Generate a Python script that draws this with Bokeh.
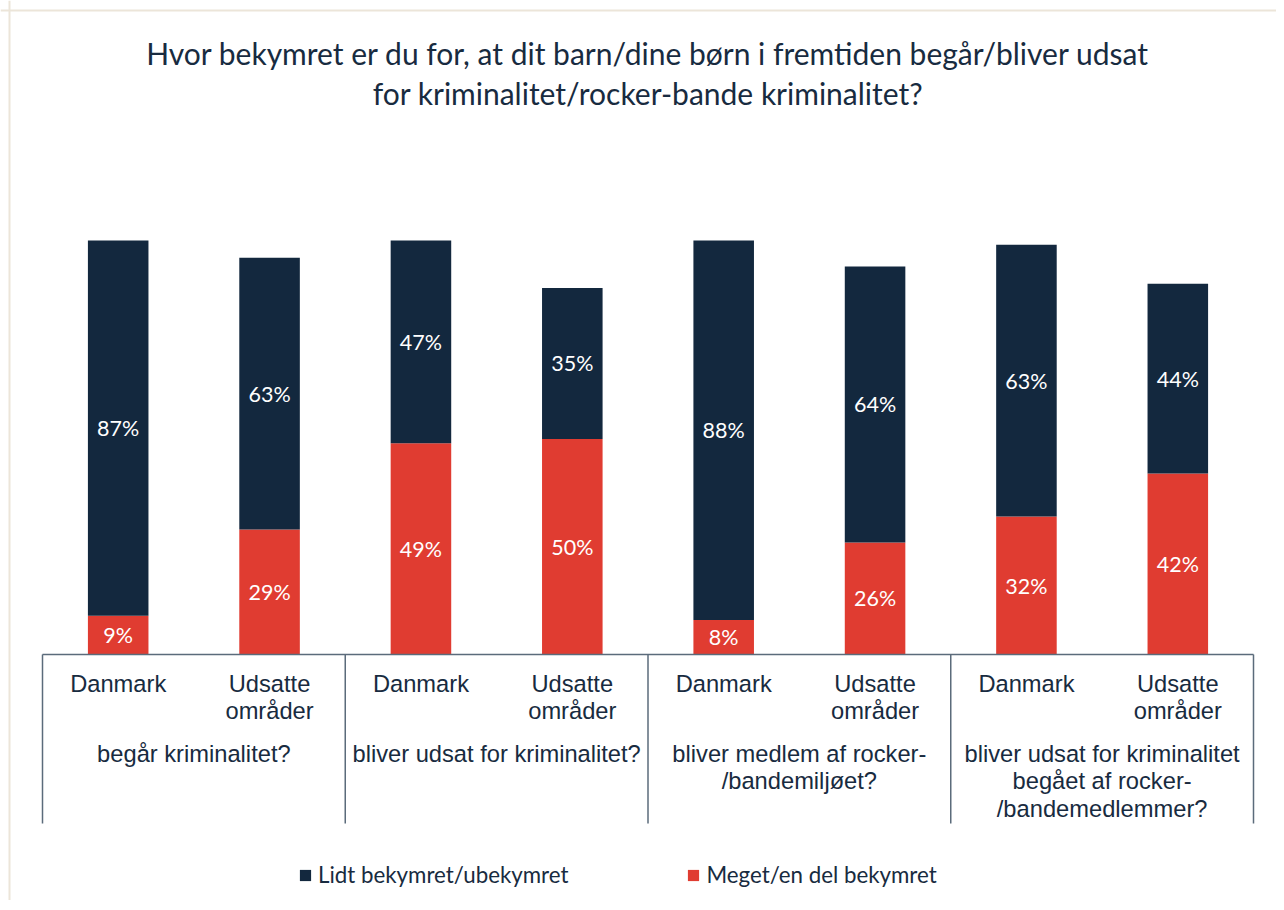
from bokeh.plotting import figure
from bokeh.models import ColumnDataSource, Legend, LegendItem, Span, Range1d
from bokeh.core.properties import value
from bokeh.embed import file_html
from bokeh.resources import INLINE

# ---- data ----
groups = [
    "begår kriminalitet?",
    "bliver udsat for kriminalitet?",
    "bliver medlem af rocker-\n/bandemiljøet?",
    "bliver udsat for kriminalitet\nbegået af rocker-\n/bandemedlemmer?",
]
subcats = ["Danmark", "Udsatte\nområder"]
meget = [9, 29, 49, 50, 8, 26, 32, 42]     # Meget/en del bekymret
lidt = [87, 63, 47, 35, 88, 64, 63, 44]    # Lidt bekymret/ubekymret
series_names = ["Lidt bekymret/ubekymret", "Meget/en del bekymret"]
title_lines = [
    "Hvor bekymret er du for, at dit barn/dine børn i fremtiden begår/bliver udsat",
    "for kriminalitet/rocker-bande kriminalitet?",
]

NAVY = "#13283e"
RED = "#e03c31"
TEXT = "#182b40"
LINEC = "#5b6b7b"

W, H = 1276, 900
# layout in picture pixels -> data
AX_L, AX_R, BASE = 42, 1253, 654
n = len(meget)
cw = (AX_R - AX_L) / n
ppu = 4.3125  # px per percent


def dx(px):
    return (px - AX_L) / cw


def dy(py):
    return (BASE - py) / ppu


p = figure(width=W, height=H, output_backend="svg", toolbar_location=None,
           x_range=Range1d(dx(0), dx(W)), y_range=Range1d(dy(H), dy(0)),
           min_border=0, tools="")
p.axis.visible = False
p.grid.visible = False
p.outline_line_color = None
p.background_fill_color = "white"

xs = [i + 0.5 for i in range(n)]
src = ColumnDataSource(dict(x=xs, meget=meget, lidt=lidt,
                            mid_r=[m / 2 for m in meget],
                            mid_n=[m + l / 2 for m, l in zip(meget, lidt)],
                            lab_r=[f"{m}%" for m in meget],
                            lab_n=[f"{l}%" for l in lidt]))

rs = p.vbar_stack(["meget", "lidt"], x="x", width=0.4, source=src,
                  color=[RED, NAVY], line_color=None)

for col, lab in (("mid_r", "lab_r"), ("mid_n", "lab_n")):
    p.text(x="x", y=col, text=lab, source=src, text_color="white",
           text_font=value("Lato"), text_font_size="21.5px",
           text_align="center", text_baseline="middle")

# axis frame lines
p.segment(x0=[0], y0=[0], x1=[n], y1=[0], line_color=LINEC, line_width=1.5)
gx = [2 * g for g in range(len(groups) + 1)]
p.segment(x0=gx, y0=[0] * len(gx), x1=gx, y1=[dy(823)] * len(gx),
          line_color=LINEC, line_width=1.5)

# sub-category labels
sub_t = [subcats[i % 2] for i in range(n)]
p.text(x=xs, y=[dy(670)] * n, text=sub_t, text_color=TEXT,
       text_font=value("Liberation Sans"), text_font_size="23.7px",
       text_align="center", text_baseline="top", text_line_height=1.07)

# group labels
p.text(x=[2 * g + 1 for g in range(len(groups))], y=[dy(740)] * len(groups),
       text=groups, text_color=TEXT,
       text_font=value("Liberation Sans"), text_font_size="23.7px",
       text_align="center", text_baseline="top", text_line_height=1.07)

# title
p.text(x=[n / 2] * 2, y=[dy(52), dy(92)], text=title_lines, text_color=TEXT,
       text_font=value("Lato"), text_font_size="30px",
       text_align="center", text_baseline="middle")

# outer light border (top and left)
p.add_layout(Span(location=dy(10), dimension="width", line_color="#ece5d9", line_width=2))
p.add_layout(Span(location=dx(9), dimension="height", line_color="#ece5d9", line_width=2))

legend = Legend(items=[LegendItem(label=series_names[0], renderers=[rs[1]]),
                       LegendItem(label=series_names[1], renderers=[rs[0]])],
                orientation="horizontal", location=(298, 12),
                border_line_color=None, background_fill_alpha=0,
                label_text_font="Lato", label_text_font_size="22.3px",
                label_text_color=TEXT, glyph_width=14, glyph_height=14,
                label_standoff=6, spacing=118, padding=0, margin=0)
p.add_layout(legend)

open("out.html", "w").write(file_html(p, INLINE))
